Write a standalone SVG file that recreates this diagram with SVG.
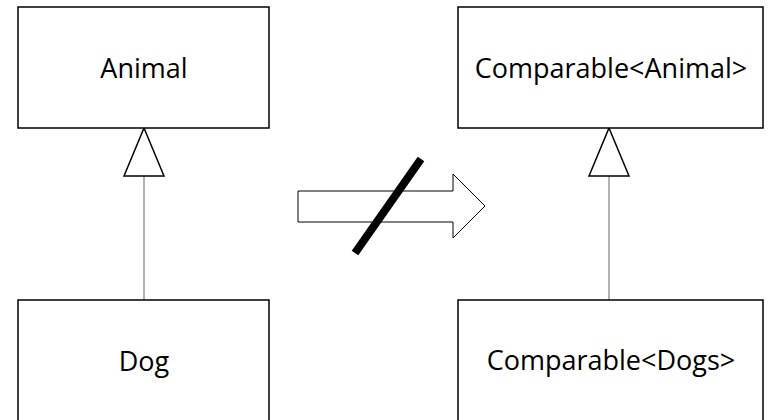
<svg xmlns="http://www.w3.org/2000/svg" width="772" height="420" viewBox="0 0 772 420">
<style>
.box{fill:#fff;stroke:#000;stroke-width:1.5}
.lbl{font-family:"Open Sans","Noto Sans",sans-serif;font-size:27px;fill:#000;text-anchor:middle}
.conn{stroke:#7f7f7f;stroke-width:1.2;fill:none}
.tri{fill:#fff;stroke:#000;stroke-width:1.5}
</style>
<rect width="772" height="420" fill="#fff"/>
<g id="connectors">
<line class="conn" x1="144" y1="176" x2="144" y2="300"/>
<line class="conn" x1="609" y1="176" x2="609" y2="300"/>
<polygon class="tri" points="144,128 164,176 124,176"/>
<polygon class="tri" points="609,128 629,176 589,176"/>
</g>
<g id="animal">
<rect class="box" x="18" y="7" width="251" height="121"/>
<text class="lbl" x="144" y="78">Animal</text>
</g>
<g id="dog">
<rect class="box" x="18" y="300" width="251" height="130"/>
<text class="lbl" x="144" y="371">Dog</text>
</g>
<g id="comparable-animal">
<rect class="box" x="458" y="7" width="305" height="121"/>
<text class="lbl" x="611" y="78">Comparable&lt;Animal&gt;</text>
</g>
<g id="comparable-dogs">
<rect class="box" x="458" y="300" width="305" height="130"/>
<text class="lbl" x="611" y="370">Comparable&lt;Dogs&gt;</text>
</g>
<g id="not-implies">
<polygon points="298,191 453,191 453,174 485,206 453,238 453,222 298,222" fill="#fff" stroke="#000" stroke-width="1"/>
<line x1="421" y1="159" x2="355" y2="253" stroke="#000" stroke-width="8"/>
</g>
</svg>
